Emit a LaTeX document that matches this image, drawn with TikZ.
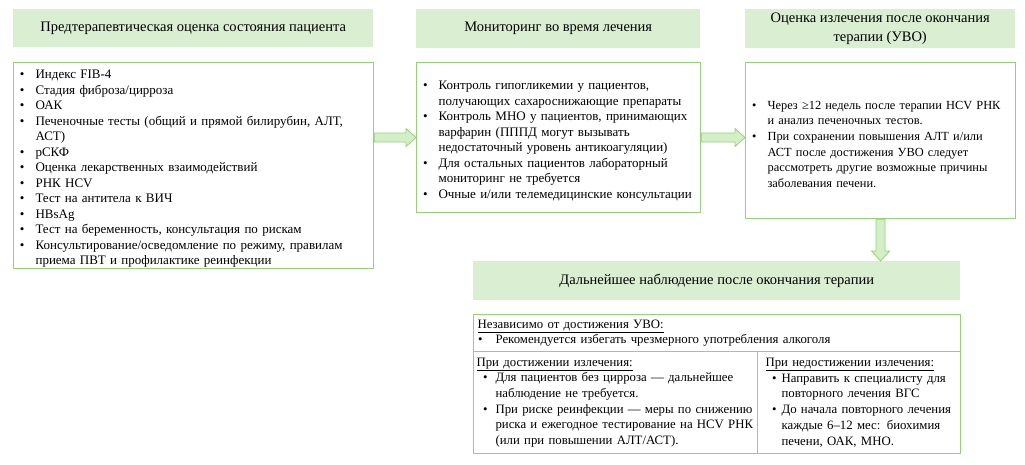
\documentclass[tikz,border=0pt]{standalone}
\usepackage{fontspec}
\setmainfont{Liberation Serif}
\usepackage{enumitem}
\usetikzlibrary{calc}

\definecolor{fuHead}{RGB}{218,238,210}
\definecolor{fuLine}{RGB}{150,208,125}
\definecolor{fuArrow}{RGB}{212,239,200}

\setlist[itemize]{label=\textbullet, nosep, leftmargin=16pt, labelsep=11pt}

\begin{document}
\begin{tikzpicture}[x=1pt, y=-1pt,
  hdr/.style={fill=fuHead, anchor=north west, inner sep=0pt, align=center,
    font=\fontsize{14.5}{19}\selectfont},
  listbox/.style={draw=fuLine, line width=1.1pt, fill=white, anchor=north west,
    inner xsep=6pt, inner ysep=0pt, font=\fontsize{13}{15.5}\selectfont},
  cell/.style={draw=fuLine, line width=1.1pt, anchor=north west,
    inner xsep=4pt, inner ysep=0pt, font=\fontsize{12.8}{15.7}\selectfont},
  fatarrow/.style={draw=fuLine, fill=fuArrow, line width=0.8pt}]

  \useasboundingbox (0,0) rectangle (1025,464);

  % ---- headers ----
  \node[hdr, minimum width=360pt, minimum height=38pt] (preh) at (13,9)
    {Предтерапевтическая оценка состояния пациента};
  \node[hdr, minimum width=284pt, minimum height=39pt] (monh) at (416,9)
    {Мониторинг во время лечения};
  \node[hdr, minimum width=270pt, minimum height=39pt] (cureh) at (745,9)
    {Оценка излечения после окончания\\терапии (УВО)};
  \node[hdr, minimum width=487pt, minimum height=39pt] (fuh) at (473,261)
    {Дальнейшее наблюдение после окончания терапии};

  % ---- pre-treatment ----
  \node[listbox, text width=348pt, minimum height=206pt] (pre) at (13,62) {%
    \begin{itemize}
      \item Индекс FIB-4
      \item Стадия фиброза/цирроза
      \item ОАК
      \item Печеночные тесты (общий и прямой билирубин,  АЛТ,\newline АСТ)
      \item рСКФ
      \item Оценка лекарственных  взаимодействий
      \item РНК HCV
      \item Тест на антитела  к ВИЧ
      \item HBsAg
      \item Тест на беременность, консультация  по рискам
      \item Консультирование/осведомление  по режиму,  правилам\newline приема  ПВТ и профилактике  реинфекции
    \end{itemize}};

  % ---- monitoring ----
  \node[listbox, text width=272pt, minimum height=150pt] (mon) at (416,62) {%
    \begin{itemize}
      \item Контроль гипогликемии  у пациентов,\newline получающих  сахароснижающие  препараты
      \item Контроль МНО у пациентов,  принимающих\newline варфарин  (ПППД могут вызывать\newline недостаточный уровень антикоагуляции)
      \item Для остальных  пациентов  лабораторный\newline мониторинг  не требуется
      \item Очные и/или  телемедицинские  консультации
    \end{itemize}};

  % ---- cure ----
  \node[listbox, text width=258pt, minimum height=156pt,
    font=\fontsize{12.4}{15.6}\selectfont] (cure) at (745,62) {%
    \begin{itemize}
      \item Через ≥12 недель после терапии  HCV РНК\newline и анализ  печеночных тестов.
      \item При сохранении  повышения  АЛТ  и/или\newline АСТ  после  достижения  УВО следует\newline рассмотреть другие возможные причины\newline заболевания  печени.
    \end{itemize}};

  % ---- follow-up table ----
  \node[cell, text width=479pt, minimum height=37pt] (fuall) at (473,314) {%
    \underline{Независимо  от достижения  УВО:}
    \begin{itemize}[leftmargin=18pt, labelsep=13pt]
      \item Рекомендуется избегать чрезмерного употребления  алкоголя
    \end{itemize}};
  \node[cell, text width=278pt, minimum height=102pt, inner xsep=3pt] (fuyes) at (473,351) {%
    \underline{При достижении  излечения:}
    \begin{itemize}[leftmargin=19pt, labelsep=8pt]
      \item Для пациентов  без цирроза — дальнейшее\newline наблюдение  не требуется.
      \item При риске реинфекции  — меры по снижению\newline риска и ежегодное тестирование  на HCV РНК\newline (или при повышении  АЛТ/АСТ).
    \end{itemize}};
  \node[cell, text width=187pt, minimum height=102pt, inner xsep=8pt] (funo) at (757,351) {%
    \underline{При недостижении  излечения:}
    \begin{itemize}[leftmargin=16pt, labelsep=5pt]
      \item Направить  к специалисту  для\newline повторного лечения ВГС
      \item До начала  повторного лечения\newline каждые 6–12 мес: биохимия\newline печени,  ОАК,  МНО.
    \end{itemize}};

  % ---- arrows ----
  \draw[fatarrow] let \p1=(pre.east |- mon.west), \p2=(mon.west) in
    (\x1,\y1+4.5pt) -- (\x2-10pt,\y1+4.5pt) -- (\x2-10pt,\y1+9pt) -- (\x2,\y1)
    -- (\x2-10pt,\y1-9pt) -- (\x2-10pt,\y1-4.5pt) -- (\x1,\y1-4.5pt) -- cycle;
  \draw[fatarrow] let \p1=(mon.east), \p2=(cure.west |- mon.east) in
    (\x1,\y1+4.5pt) -- (\x2-10pt,\y1+4.5pt) -- (\x2-10pt,\y1+9pt) -- (\x2,\y1)
    -- (\x2-10pt,\y1-9pt) -- (\x2-10pt,\y1-4.5pt) -- (\x1,\y1-4.5pt) -- cycle;
  \draw[fatarrow] let \p1=(cure.south), \p2=(cure.south |- fuh.north) in
    (\x1+4.5pt,\y1) -- (\x1+4.5pt,\y2+10pt) -- (\x1+9pt,\y2+10pt) -- (\x1,\y2)
    -- (\x1-9pt,\y2+10pt) -- (\x1-4.5pt,\y2+10pt) -- (\x1-4.5pt,\y1) -- cycle;

\end{tikzpicture}
\end{document}
